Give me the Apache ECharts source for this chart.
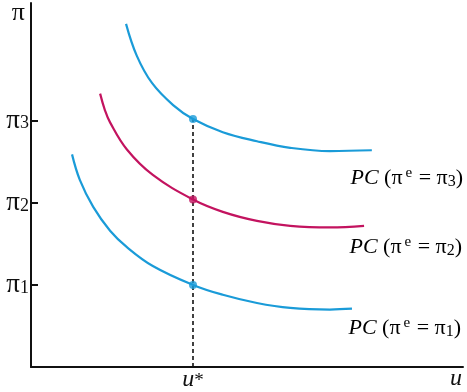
<!DOCTYPE html>
<html>
<head>
<meta charset="utf-8">
<script src="https://cdn.jsdelivr.net/npm/echarts@6/dist/echarts.min.js"></script>
<style>
html,body{margin:0;padding:0;background:#fff;}
#chart{width:467px;height:392px;}
</style>
</head>
<body>
<div id="chart"></div>
<script>
// ---- data ----
var ustar = 3.75;
var yTickValues = [1, 2, 3];
var curve3X = [2.20, 2.45, 2.80, 3.29, 3.75, 4.44, 5.23, 6.00, 6.92, 7.89];
var curve3Y = [4.18, 3.79, 3.46, 3.19, 3.02, 2.86, 2.75, 2.67, 2.63, 2.64];
var curve2X = [1.60, 1.71, 1.83, 2.22, 2.82, 3.75, 4.44, 5.23, 6.00, 6.92, 7.71];
var curve2Y = [3.33, 3.13, 2.98, 2.65, 2.34, 2.04, 1.89, 1.78, 1.72, 1.70, 1.72];
var curve1X = [0.95, 1.13, 1.44, 1.83, 2.22, 2.82, 3.75, 4.44, 5.23, 6.00, 6.92, 7.43];
var curve1Y = [2.59, 2.28, 1.95, 1.66, 1.46, 1.23, 1.00, 0.88, 0.78, 0.72, 0.70, 0.71];
var dotY = [3.02, 2.04, 1.00];
var curveLabels = ['3', '2', '1'];

var BLUE = '#1a9bd8';
var MAGENTA = '#c3135f';
var SERIF = '"Liberation Serif","Times New Roman",serif';

function pairs(xs, ys) { return xs.map(function (x, i) { return [x, ys[i]]; }); }

var chart = echarts.init(document.getElementById('chart'));

function pcText(n) {
  return '{pc|PC}{n| (π}{sup|e}{n| = π}{sub|' + n + '}{n|)}';
}
var pcRich = {
  pc: { fontFamily: SERIF, fontStyle: 'italic', fontSize: 22, color: '#111', lineHeight: 24, verticalAlign: 'middle' },
  n: { fontFamily: SERIF, fontSize: 22, color: '#111', lineHeight: 24, verticalAlign: 'middle' },
  sup: { fontFamily: SERIF, fontSize: 15, color: '#111', lineHeight: 14, verticalAlign: 'top', padding: [0, 1, 0, 3] },
  sub: { fontFamily: SERIF, fontSize: 16, color: '#111', lineHeight: 14, verticalAlign: 'bottom' }
};

var option = {
  backgroundColor: '#fff',
  animation: false,
  grid: { left: 31, right: 4, top: 3, bottom: 21, containLabel: false },
  xAxis: {
    type: 'value', min: 0, max: 10,
    splitLine: { show: false },
    axisLine: { show: true, onZero: false, lineStyle: { color: '#111', width: 2 } },
    axisTick: { show: false },
    axisLabel: {
      customValues: [ustar], margin: 5,
      formatter: function () { return '{i|u}{s|*}'; },
      rich: {
        i: { fontFamily: SERIF, fontStyle: 'italic', fontSize: 24, color: '#111', verticalAlign: 'bottom', lineHeight: 20 },
        s: { fontFamily: SERIF, fontSize: 19, color: '#111', verticalAlign: 'top', lineHeight: 16 }
      }
    },
    name: 'u', nameLocation: 'end', nameGap: -7,
    nameTextStyle: { fontFamily: SERIF, fontStyle: 'italic', fontSize: 24, color: '#111', align: 'center', verticalAlign: 'top', padding: [1, 0, 0, 0], lineHeight: 22 }
  },
  yAxis: {
    type: 'value', min: 0, max: 4.434,
    splitLine: { show: false },
    axisLine: { show: true, onZero: false, lineStyle: { color: '#111', width: 2 } },
    axisTick: { show: true, customValues: yTickValues, inside: true, length: 7, lineStyle: { color: '#111', width: 2 } },
    axisLabel: {
      customValues: yTickValues, margin: 2,
      formatter: function (v) { return '{p|π}{s|' + Math.round(v) + '}'; },
      rich: {
        p: { fontFamily: SERIF, fontSize: 27, color: '#111', lineHeight: 24, verticalAlign: 'middle' },
        s: { fontFamily: SERIF, fontSize: 18, color: '#111', lineHeight: 16, verticalAlign: 'bottom' }
      }
    },
    name: 'π', nameLocation: 'end', nameGap: -10, nameRotate: 0,
    nameTextStyle: { fontFamily: SERIF, fontSize: 26, color: '#111', align: 'right', verticalAlign: 'middle', padding: [0, 6, 0, 0] }
  },
  series: [
    {
      type: 'line', data: [[ustar, 0], [ustar, dotY[0]]], symbol: 'none', silent: true,
      lineStyle: { color: '#111', width: 1.6, type: [4, 3] }, z: 1
    },
    { type: 'line', data: pairs(curve3X, curve3Y), smooth: 0.4, symbol: 'none', lineStyle: { color: BLUE, width: 2.2 }, z: 2 },
    { type: 'line', data: pairs(curve2X, curve2Y), smooth: 0.4, symbol: 'none', lineStyle: { color: MAGENTA, width: 2.2 }, z: 2 },
    { type: 'line', data: pairs(curve1X, curve1Y), smooth: 0.4, symbol: 'none', lineStyle: { color: BLUE, width: 2.2 }, z: 2 },
    {
      type: 'scatter', symbolSize: 8, z: 3,
      data: [
        { value: [ustar, dotY[0]], itemStyle: { color: BLUE } },
        { value: [ustar, dotY[1]], itemStyle: { color: MAGENTA } },
        { value: [ustar, dotY[2]], itemStyle: { color: BLUE } }
      ]
    }
  ],
  graphic: [
    { type: 'text', style: { x: 463, y: 178, text: pcText(curveLabels[0]), rich: pcRich, align: 'right', verticalAlign: 'middle' } },
    { type: 'text', style: { x: 462, y: 247, text: pcText(curveLabels[1]), rich: pcRich, align: 'right', verticalAlign: 'middle' } },
    { type: 'text', style: { x: 461, y: 328, text: pcText(curveLabels[2]), rich: pcRich, align: 'right', verticalAlign: 'middle' } }
  ]
};
chart.setOption(option);
</script>
</body>
</html>
